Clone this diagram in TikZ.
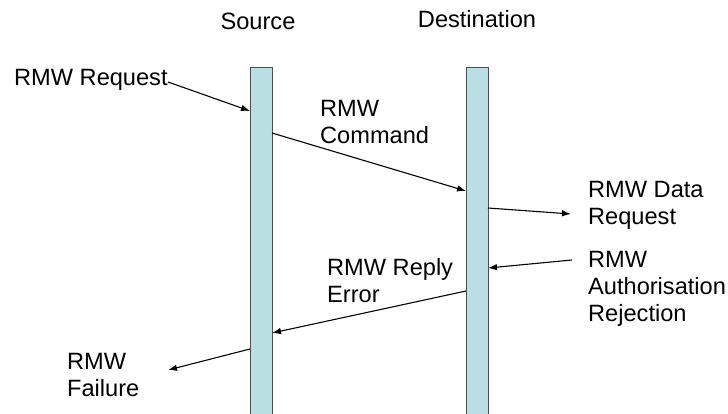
\documentclass[tikz,border=0pt]{standalone}
\usepackage{fontspec}
\setmainfont{Liberation Sans}
\usetikzlibrary{arrows.meta}
\definecolor{barfill}{HTML}{B9DFE4}
\definecolor{barline}{HTML}{505050}
\begin{document}
\begin{tikzpicture}[x=1pt,y=-1pt,
  lbl/.style={inner sep=0pt, font=\fontsize{23.6}{27}\selectfont, align=left, anchor=north west},
  ttl/.style={inner sep=0pt, font=\fontsize{23.6}{27}\selectfont, anchor=base},
  bar/.style={draw=barline, line width=1pt, fill=barfill, minimum width=22pt, minimum height=360pt, inner sep=0pt, anchor=north},
  msg/.style={line width=1.1pt, -{Latex[length=9pt,width=6.5pt]}}]
\useasboundingbox (0,0) rectangle (728,414);
\node[bar] (src) at (261,67) {};
\node[bar] (dst) at (477,67) {};
\node[ttl] (srct) at (258,30) {Source};
\node[ttl] (dstt) at (477,28) {Destination};
\node[lbl] (req) at (14,69) {RMW Request};
\node[lbl] (cmd) at (320,100) {RMW\\Command};
\node[lbl] (data) at (588,181) {RMW Data\\Request};
\node[lbl] (auth) at (588,251) {RMW\\Authorisation\\Rejection};
\node[lbl] (rep) at (327,258) {RMW Reply\\Error};
\node[lbl] (fail) at (67,353) {RMW\\Failure};
\coordinate (reqs) at (168,82);
\coordinate (reqe) at (250,111);
\coordinate (cmds) at (272,133);
\coordinate (cmde) at (466,191);
\coordinate (dats) at (488,208);
\coordinate (date) at (571,214);
\coordinate (auths) at (572,260);
\coordinate (authe) at (488,268);
\coordinate (reps) at (466,291);
\coordinate (repe) at (272,333);
\coordinate (fails) at (250,349);
\coordinate (faile) at (168,370);
\draw[msg] (reqs) -- (reqe);
\draw[msg] (cmds) -- (cmde);
\draw[msg] (dats) -- (date);
\draw[msg] (auths) -- (authe);
\draw[msg] (reps) -- (repe);
\draw[msg] (fails) -- (faile);
\end{tikzpicture}
\end{document}
